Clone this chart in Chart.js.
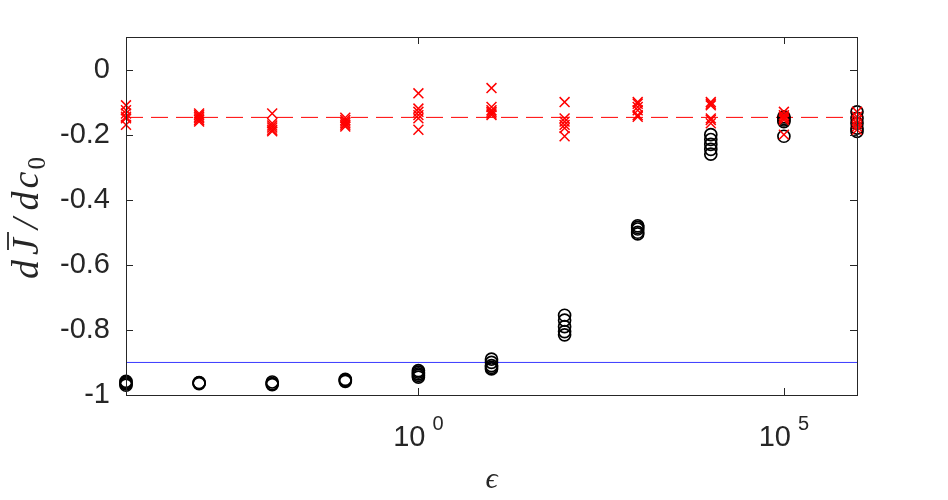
<!DOCTYPE html>
<html lang="en">
<head>
    <meta charset="UTF-8">
    <title>dJ/dc0 vs epsilon</title>
    <script src="https://cdn.jsdelivr.net/npm/chart.js"></script>
    <style>
        html, body { margin: 0; padding: 0; background: #fff; }
        .chart-container { width: 948px; height: 500px; }
    </style>
</head>
<body>

<div class="chart-container">
    <canvas id="sensChart" width="948" height="500"></canvas>
</div>

<script>
    // epsilon values (one group of runs per decade)
    const epsValues = [1e-4, 1e-3, 1e-2, 1e-1, 1, 1e1, 1e2, 1e3, 1e4, 1e5, 1e6];

    // red crosses, one list per epsilon
    const crossValues = [
        [-0.11, -0.125, -0.135, -0.145, -0.15, -0.17],
        [-0.135, -0.14, -0.145, -0.15, -0.155, -0.16],
        [-0.135, -0.165, -0.172, -0.178, -0.185, -0.19],
        [-0.148, -0.155, -0.16, -0.165, -0.17, -0.175],
        [-0.073, -0.12, -0.13, -0.14, -0.15, -0.185],
        [-0.057, -0.115, -0.125, -0.13, -0.135, -0.14],
        [-0.1, -0.15, -0.16, -0.17, -0.18, -0.205],
        [-0.1, -0.105, -0.115, -0.125, -0.14, -0.145],
        [-0.1, -0.105, -0.11, -0.15, -0.155, -0.165],
        [-0.13, -0.14, -0.145, -0.15, -0.155, -0.2],
        [-0.13, -0.145, -0.155, -0.165, -0.175, -0.185]
    ];

    // black circles, one list per epsilon
    const circleValues = [
        [-0.958, -0.962, -0.966, -0.97],
        [-0.962, -0.965, -0.963],
        [-0.96, -0.965, -0.968],
        [-0.952, -0.955, -0.958],
        [-0.925, -0.93, -0.935, -0.94, -0.945],
        [-0.89, -0.9, -0.91, -0.915, -0.92],
        [-0.755, -0.77, -0.79, -0.805, -0.815],
        [-0.48, -0.485, -0.49, -0.5, -0.505],
        [-0.2, -0.215, -0.23, -0.245, -0.26],
        [-0.145, -0.15, -0.155, -0.16, -0.205],
        [-0.13, -0.15, -0.165, -0.18, -0.19]
    ];

    // reference lines
    const dashedLevel = -0.147;
    const blueLevel = -0.9;

    // axes
    const xRange = [1e-4, 1e6];
    const yRange = [-1, 0.1];
    const yTicks = [-1, -0.8, -0.6, -0.4, -0.2, 0];
    const yTickLabels = ['-1', '-0.8', '-0.6', '-0.4', '-0.2', '0'];
    const xTicks = [1, 1e5];
    const xTickExps = ['0', '5'];

    const axisColor = '#262626';

    function toPoints(groups) {
        const pts = [];
        groups.forEach((vals, i) => {
            vals.forEach(v => pts.push({ x: epsValues[i], y: v }));
        });
        return pts;
    }

    // frame, inward ticks, x tick labels and y label
    const matlabAxes = {
        id: 'matlabAxes',
        afterDraw(chart) {
            const ctx = chart.ctx;
            const a = chart.chartArea;
            const xs = chart.scales.x;
            const ys = chart.scales.y;
            const tl = 7;

            ctx.save();
            ctx.strokeStyle = axisColor;
            ctx.lineWidth = 1;
            ctx.strokeRect(a.left + 0.5, a.top + 0.5, a.right - a.left, a.bottom - a.top);

            ctx.beginPath();
            yTicks.forEach(v => {
                const py = Math.round(ys.getPixelForValue(v)) + 0.5;
                ctx.moveTo(a.left, py); ctx.lineTo(a.left + tl, py);
                ctx.moveTo(a.right, py); ctx.lineTo(a.right - tl, py);
            });
            xTicks.forEach(v => {
                const px = Math.round(xs.getPixelForValue(v)) + 0.5;
                ctx.moveTo(px, a.bottom); ctx.lineTo(px, a.bottom - tl);
                ctx.moveTo(px, a.top); ctx.lineTo(px, a.top + tl);
            });
            ctx.stroke();

            // x tick labels 10^n
            ctx.fillStyle = axisColor;
            ctx.textBaseline = 'alphabetic';
            ctx.textAlign = 'left';
            xTicks.forEach((v, i) => {
                const px = xs.getPixelForValue(v);
                ctx.font = '29px "Liberation Sans", Arial, sans-serif';
                const wBase = ctx.measureText('10').width;
                ctx.font = '20px "Liberation Sans", Arial, sans-serif';
                const wExp = ctx.measureText(xTickExps[i]).width;
                const gap = 7;
                const x0 = px - (wBase + gap + wExp) / 2;
                ctx.font = '29px "Liberation Sans", Arial, sans-serif';
                ctx.fillText('10', x0, a.bottom + 51);
                ctx.font = '20px "Liberation Sans", Arial, sans-serif';
                ctx.fillText(xTickExps[i], x0 + wBase + gap, a.bottom + 35);
            });

            // y label  d J-bar / d c_0
            const cy = (a.top + a.bottom) / 2 + 2;
            ctx.translate(38, cy);
            ctx.rotate(-Math.PI / 2);
            const big = 'italic 38px "Liberation Serif", serif';
            const small = '25px "Liberation Serif", serif';
            const parts = [
                { t: 'd', f: big, dy: 0, after: 5 },
                { t: 'J', f: big, dy: 0, after: 9, bar: true },
                { t: '/', f: big, dy: 0, after: 8 },
                { t: 'd', f: big, dy: 0, after: 3 },
                { t: 'c', f: big, dy: 0, after: 2 },
                { t: '0', f: small, dy: 7, after: 0 }
            ];
            let total = 0;
            parts.forEach(p => { ctx.font = p.f; p.w = ctx.measureText(p.t).width; total += p.w + p.after; });
            let x = -total / 2;
            parts.forEach(p => {
                ctx.font = p.f;
                ctx.fillText(p.t, x, p.dy);
                if (p.bar) {
                    ctx.beginPath();
                    ctx.lineWidth = 1.8;
                    ctx.moveTo(x + 5, -30);
                    ctx.lineTo(x + p.w + 6, -30);
                    ctx.stroke();
                }
                x += p.w + p.after;
            });
            ctx.restore();
        }
    };

    const ctx = document.getElementById('sensChart').getContext('2d');

    new Chart(ctx, {
        type: 'scatter',
        data: {
            datasets: [
                {
                    label: 'crosses',
                    data: toPoints(crossValues),
                    pointStyle: 'crossRot',
                    pointRadius: 7,
                    borderColor: '#ff0000',
                    borderWidth: 1.5,
                    clip: false,
                    order: 0
                },
                {
                    label: 'circles',
                    data: toPoints(circleValues),
                    pointStyle: 'circle',
                    pointRadius: 6,
                    borderColor: '#000000',
                    backgroundColor: 'rgba(0,0,0,0)',
                    borderWidth: 1.7,
                    clip: false,
                    order: 1
                },
                {
                    type: 'line',
                    label: 'mean',
                    data: [{ x: xRange[0], y: dashedLevel }, { x: xRange[1], y: dashedLevel }],
                    borderColor: '#ff0000',
                    borderWidth: 1,
                    borderDash: [17, 8],
                    pointRadius: 0,
                    order: 2
                },
                {
                    type: 'line',
                    label: 'limit',
                    data: [{ x: xRange[0], y: blueLevel }, { x: xRange[1], y: blueLevel }],
                    borderColor: '#3a3aff',
                    borderWidth: 1,
                    pointRadius: 0,
                    order: 3
                }
            ]
        },
        options: {
            responsive: false,
            animation: false,
            layout: {
                padding: { top: 37, right: 91, left: 0, bottom: 0 }
            },
            plugins: {
                legend: { display: false },
                tooltip: { enabled: false }
            },
            scales: {
                x: {
                    type: 'logarithmic',
                    min: xRange[0],
                    max: xRange[1],
                    grid: { display: false, drawTicks: false },
                    border: { display: false },
                    ticks: { display: false },
                    title: {
                        display: true,
                        text: 'ϵ',
                        color: axisColor,
                        font: { family: '"Liberation Serif", "DejaVu Serif", serif', size: 30, style: 'italic' },
                        padding: { top: 0, bottom: 2 }
                    },
                    afterFit(scale) { scale.height = 105; }
                },
                y: {
                    min: yRange[0],
                    max: yRange[1],
                    grid: { display: false, drawTicks: false },
                    border: { display: false },
                    afterBuildTicks(scale) {
                        scale.ticks = yTicks.map(v => ({ value: v }));
                    },
                    ticks: {
                        color: axisColor,
                        padding: 16,
                        font: { family: '"Liberation Sans", Arial, sans-serif', size: 29 },
                        callback: (value) => yTickLabels[yTicks.indexOf(value)]
                    },
                    afterFit(scale) { scale.width = 126; }
                }
            }
        },
        plugins: [matlabAxes]
    });
</script>

</body>
</html>
